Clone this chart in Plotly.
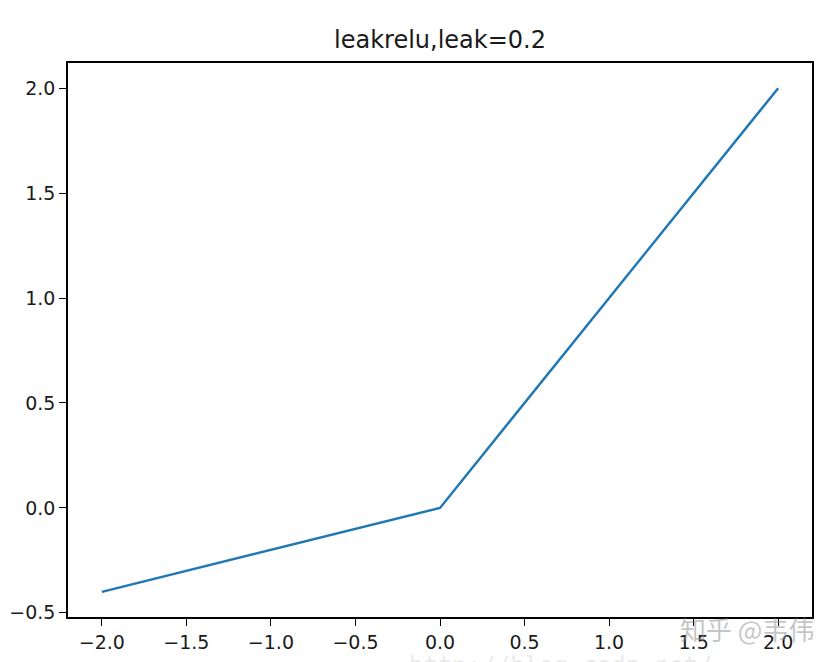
import plotly.graph_objects as go

# data
x_vals = [-2.0, 0.0, 2.0]
y_vals = [-0.4, 0.0, 2.0]
x_ticks = [-2.0, -1.5, -1.0, -0.5, 0.0, 0.5, 1.0, 1.5, 2.0]
y_ticks = [-0.5, 0.0, 0.5, 1.0, 1.5, 2.0]
title_text = "leakrelu,leak=0.2"

W, H = 825, 654

fig = go.Figure()
fig.add_trace(go.Scatter(x=x_vals, y=y_vals, mode="lines",
                         line=dict(color="#1f77b4", width=2.4),
                         showlegend=False))

axis_common = dict(showline=True, linecolor="black", linewidth=1.5, mirror=True,
                   ticks="outside", ticklen=7, tickwidth=1.2, tickcolor="black",
                   showgrid=False, zeroline=False, automargin=False,
                   tickfont=dict(family="DejaVu Sans", size=19, color="#1a1a1a"))

fig.update_xaxes(range=[-2.2, 2.2], tickvals=x_ticks,
                 ticktext=[f"{v:.1f}".replace("-", "\u2212") for v in x_ticks],
                 **axis_common)
fig.update_yaxes(range=[-0.52, 2.12], tickvals=y_ticks,
                 ticktext=[f"{v:.1f}".replace("-", "\u2212") for v in y_ticks],
                 **axis_common)

fig.update_layout(
    width=W, height=H,
    margin=dict(l=60, r=21, t=55, b=45, autoexpand=False),
    paper_bgcolor="white", plot_bgcolor="white",
    title=dict(text=title_text, x=0.5, xref="paper", y=1 - 32 / H, yref="container",
               xanchor="center", yanchor="middle",
               font=dict(family="DejaVu Sans", size=24, color="#1a1a1a")),
)

fig.add_annotation(text="知乎 @韦伟", xref="paper", yref="paper",
                   x=1.005, y=-0.02, xanchor="right", yanchor="middle",
                   showarrow=False,
                   font=dict(family="Noto Sans CJK SC", size=26, color="rgba(140,140,140,0.5)"))
fig.add_annotation(text="http://blog.csdn.net/", xref="paper", yref="paper",
                   x=0.455, y=-0.088, xanchor="left", yanchor="middle",
                   showarrow=False,
                   font=dict(family="DejaVu Sans Mono", size=24, color="rgba(170,170,170,0.25)"))

fig.write_html("out.html")
